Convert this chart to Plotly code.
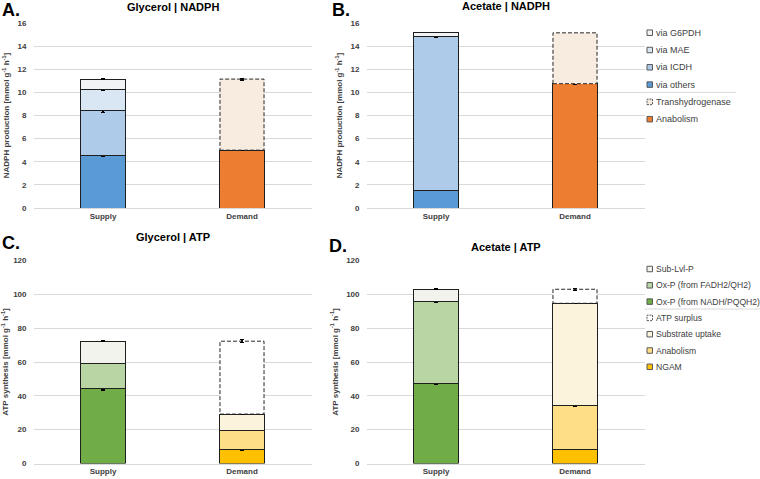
import plotly.graph_objects as go

# ---------------- DATA ----------------
categories = ["Supply", "Demand"]

nadph_supply_names = ["via others", "via ICDH", "via MAE", "via G6PDH"]
nadph_demand_names = ["Anabolism", "Transhydrogenase"]
atp_supply_names = ["Ox-P (from NADH/PQQH2)", "Ox-P (from FADH2/QH2)", "Sub-Lvl-P"]
atp_demand_names = ["NGAM", "Anabolism", "Substrate uptake", "ATP surplus"]

# Panel A: Glycerol | NADPH
gly_nadph_supply = [4.5, 3.95, 1.8, 0.9]
gly_nadph_supply_err = [0.05, 0.2, 0.05, 0.03]
gly_nadph_demand = [5.0, 6.15]
gly_nadph_demand_err = [0.05, 0.08]

# Panel B: Acetate | NADPH
ace_nadph_supply = [1.5, 13.35, 0.0, 0.3]
ace_nadph_supply_err = [0.0, 0.1, 0.0, 0.0]
ace_nadph_demand = [10.75, 4.4]
ace_nadph_demand_err = [0.05, 0.0]

# Panel C: Glycerol | ATP
gly_atp_supply = [44.5, 14.8, 13.0]
gly_atp_supply_err = [1.0, 0.4, 0.3]
gly_atp_demand = [8.0, 11.8, 9.4, 43.1]
gly_atp_demand_err = [0.3, 0.3, 0.3, 1.0]

# Panel D: Acetate | ATP
ace_atp_supply = [47.0, 48.5, 7.5]
ace_atp_supply_err = [0.3, 0.3, 0.3]
ace_atp_demand = [8.3, 25.7, 60.7, 8.3]
ace_atp_demand_err = [0.2, 0.3, 0.3, 0.5]

nadph_ticks = [0, 2, 4, 6, 8, 10, 12, 14, 16]
atp_ticks = [0, 20, 40, 60, 80, 100, 120]

nadph_legend = ["via G6PDH", "via MAE", "via ICDH", "via others", "Transhydrogenase", "Anabolism"]
atp_legend = ["Sub-Lvl-P", "Ox-P (from FADH2/QH2)", "Ox-P (from NADH/PQQH2)", "ATP surplus",
              "Substrate uptake", "Anabolism", "NGAM"]

# ---------------- STYLE ----------------
nadph_colors = {"via others": "#5B9BD5", "via ICDH": "#AECBEA", "via MAE": "#D9E6F3",
                "via G6PDH": "#F1F3F4", "Anabolism": "#ED7D31", "Transhydrogenase": "#F8ECE1"}
atp_colors = {"Ox-P (from NADH/PQQH2)": "#70AD47", "Ox-P (from FADH2/QH2)": "#B8D5A3",
              "Sub-Lvl-P": "#F1F3EC", "NGAM": "#FFC000", "Anabolism": "#FFDF85",
              "Substrate uptake": "#FCF3DD", "ATP surplus": "#FFFFFF"}
dashed_names = {"Transhydrogenase", "ATP surplus"}

W, H = 760, 479
FONT = "Arial, Liberation Sans, sans-serif"
BARGAP = 0.683
BW = 1 - BARGAP

fig = go.Figure()
shapes = []


def px_x(v):
    return v / W


def px_y(v):
    return 1 - v / H


def add_stack(ax, cat_idx, names, values, errs, colors):
    base = 0.0
    for n, v, e in zip(names, values, errs):
        dashed = n in dashed_names
        fig.add_trace(go.Bar(
            x=[categories[cat_idx]], y=[v], name=n, showlegend=False,
            marker=dict(color=colors[n], line=dict(color="#1F1F1F", width=0 if dashed else 1)),
            error_y=dict(type="data", array=[e], visible=e > 0, color="#000000",
                         thickness=1.2, width=2),
            xaxis="x" + ax, yaxis="y" + ax, hoverinfo="skip"))
        if dashed:
            xr = "x" if ax == "" else "x" + ax
            yr = "y" if ax == "" else "y" + ax
            shapes.append(dict(type="rect", xref=xr, yref=yr,
                               x0=cat_idx - BW / 2, x1=cat_idx + BW / 2,
                               y0=base, y1=base + v,
                               line=dict(color="#262626", width=1, dash="4px,2px"),
                               fillcolor="rgba(0,0,0,0)"))
        base += v


add_stack("", 0, nadph_supply_names, gly_nadph_supply, gly_nadph_supply_err, nadph_colors)
add_stack("", 1, nadph_demand_names, gly_nadph_demand, gly_nadph_demand_err, nadph_colors)
add_stack("2", 0, nadph_supply_names, ace_nadph_supply, ace_nadph_supply_err, nadph_colors)
add_stack("2", 1, nadph_demand_names, ace_nadph_demand, ace_nadph_demand_err, nadph_colors)
add_stack("3", 0, atp_supply_names, gly_atp_supply, gly_atp_supply_err, atp_colors)
add_stack("3", 1, atp_demand_names, gly_atp_demand, gly_atp_demand_err, atp_colors)
add_stack("4", 0, atp_supply_names, ace_atp_supply, ace_atp_supply_err, atp_colors)
add_stack("4", 1, atp_demand_names, ace_atp_demand, ace_atp_demand_err, atp_colors)

tickfont = dict(family=FONT, size=8, color="#404040", weight="bold")
titlefont = dict(family=FONT, size=8, color="#404040", weight="bold")

left_dom = [px_x(33.5), px_x(311.5)]
right_dom = [px_x(366.5), px_x(644.5)]
top_dom = [px_y(208), px_y(23)]
bot_dom = [px_y(463.5), px_y(260.5)]


def xax(dom, anchor):
    return dict(domain=dom, anchor=anchor, type="category", categoryorder="array",
                categoryarray=categories, range=[-0.5, 1.5], showgrid=False,
                showline=True, linecolor="#D9D9D9", linewidth=1, ticks="",
                tickfont=tickfont, automargin=False, fixedrange=True)


def yax(dom, anchor, rng, ticks, title):
    return dict(domain=dom, anchor=anchor, range=rng, tickvals=ticks, showgrid=True,
                gridcolor="#D9D9D9", gridwidth=1, zeroline=False, showline=False,
                ticks="", ticklabelstandoff=6, tickfont=tickfont,
                title=dict(text=title, font=titlefont, standoff=6), automargin=False,
                fixedrange=True)


nadph_title = "NADPH production [mmol g<sup>-1</sup> h<sup>-1</sup>]"
atp_title = "ATP synthesis [mmol g<sup>-1</sup> h<sup>-1</sup>]"

fig.update_layout(
    width=W, height=H, margin=dict(l=0, r=0, t=0, b=0),
    paper_bgcolor="white", plot_bgcolor="white",
    barmode="stack", bargap=BARGAP, showlegend=False,
    font=dict(family=FONT),
    xaxis=xax(left_dom, "y"), yaxis=yax(top_dom, "x", [0, 16], nadph_ticks, nadph_title),
    xaxis2=xax(right_dom, "y2"), yaxis2=yax(top_dom, "x2", [0, 16], nadph_ticks, nadph_title),
    xaxis3=xax(left_dom, "y3"), yaxis3=yax(bot_dom, "x3", [0, 120], atp_ticks, atp_title),
    xaxis4=xax(right_dom, "y4"), yaxis4=yax(bot_dom, "x4", [0, 120], atp_ticks, atp_title),
)

annotations = []
# chart titles
for text, cx, cy in [("Glycerol | NADPH", 172.5, 7.5), ("Acetate | NADPH", 505.5, 5.5),
                     ("Glycerol | ATP", 172.5, 237), ("Acetate | ATP", 505.5, 246.5)]:
    annotations.append(dict(text=text, x=px_x(cx), y=px_y(cy), xref="paper", yref="paper",
                            xanchor="center", yanchor="middle", showarrow=False,
                            font=dict(family=FONT, size=11, color="#000000", weight="bold")))
# panel letters
for text, lx, ly in [("A.", 0, 10), ("B.", 330, 10), ("C.", 0, 243), ("D.", 327, 246)]:
    annotations.append(dict(text=text, x=px_x(lx), y=px_y(ly), xref="paper", yref="paper",
                            xanchor="left", yanchor="middle", showarrow=False,
                            font=dict(family=FONT, size=18, color="#000000", weight="bold")))


def manual_legend(labels, colors, y0, step, fsize):
    for i, lab in enumerate(labels):
        yc = y0 + i * step
        dashed = lab in dashed_names
        shapes.append(dict(type="rect", xref="paper", yref="paper",
                           x0=px_x(647), x1=px_x(652.5), y0=px_y(yc + 2.75), y1=px_y(yc - 2.75),
                           fillcolor=colors[lab],
                           line=dict(color="#595959", width=1, dash="2px,1px" if dashed else "solid")))
        annotations.append(dict(text=lab, x=px_x(654), y=px_y(yc), xref="paper", yref="paper",
                                xanchor="left", yanchor="middle", showarrow=False,
                                font=dict(family=FONT, size=fsize, color="#404040")))


manual_legend(nadph_legend, nadph_colors, 32.7, 17.3, 9)
manual_legend(atp_legend, atp_colors, 269, 16.3, 8.6)

# legend separators
shapes.append(dict(type="line", xref="paper", yref="paper", x0=px_x(645), x1=px_x(736),
                   y0=px_y(92.4), y1=px_y(92.4), line=dict(color="#D9D9D9", width=1)))
shapes.append(dict(type="line", xref="paper", yref="paper", x0=px_x(645), x1=px_x(760),
                   y0=px_y(309), y1=px_y(309), line=dict(color="#D9D9D9", width=1)))

fig.update_layout(shapes=shapes, annotations=annotations)
fig.write_html("out.html", config={"displayModeBar": False},
               post_script="document.body.style.margin='0px';document.body.style.overflow='hidden';")
